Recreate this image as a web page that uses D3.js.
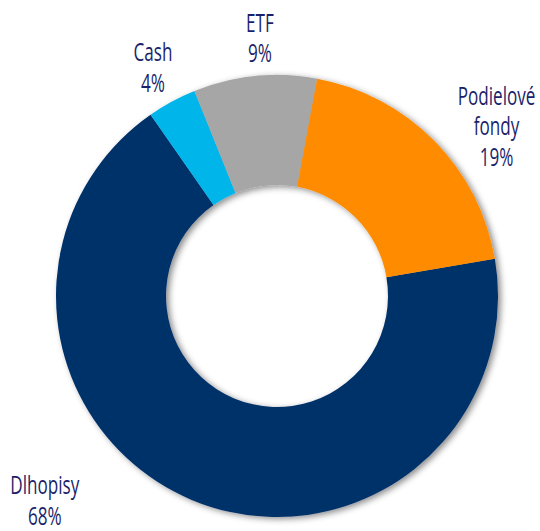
<!DOCTYPE html>
<html>
<head>
<meta charset="utf-8">
<script src="https://cdn.jsdelivr.net/npm/d3@7"></script>
<style>
  html, body { margin: 0; padding: 0; background: #fff; }
  svg { display: block; }
  .lbl { font-family: "Open Sans", "Noto Sans", sans-serif; font-size: 25px; fill: #1b1f6b; }
</style>
</head>
<body>
<svg id="chart" width="540" height="531"></svg>
<script>
const categories = ["Dlhopisy", "Cash", "ETF", "Podielové fondy"];
const values = [68.0, 3.6, 9.0, 19.4];
const colors = ["#00306b", "#00b5ea", "#a6a6a6", "#ff8c00"];

const W = 540, H = 531;
const cx = 277, cy = 296;
const outerR = 221, innerR = 111;
const startDeg = 80.3;

const svg = d3.select("#chart");
const defs = svg.append("defs");
const f = defs.append("filter").attr("id", "sh").attr("x", "-20%").attr("y", "-20%").attr("width", "140%").attr("height", "140%");
f.append("feDropShadow").attr("dx", 3).attr("dy", 2).attr("stdDeviation", 3)
  .attr("flood-color", "#000").attr("flood-opacity", 0.45);

const pie = d3.pie().sort(null).value(d => d)
  .startAngle(startDeg * Math.PI / 180)
  .endAngle(startDeg * Math.PI / 180 + 2 * Math.PI);
const arcs = pie(values);
const arc = d3.arc().innerRadius(innerR).outerRadius(outerR);

const g = svg.append("g").attr("transform", `translate(${cx},${cy})`);
g.append("g").attr("filter", "url(#sh)")
  .selectAll("path").data(arcs).join("path")
  .attr("d", arc)
  .attr("fill", (d, i) => colors[i]);

// condensing factor so "Dlhopisy" is ~69px wide (condensed face look)
const probe = svg.append("text").attr("class", "lbl").text("Dlhopisy");
const sx = 69 / probe.node().getComputedTextLength();
probe.remove();

// label placement: [angle in degrees clockwise from top, radius]
const placement = [[228.6, 309.5], [-28.5, 260], [-3.8, 258.6], [52.3, 277.5]];
const lineH = 30.5;
const labels = g.append("g");
arcs.forEach((d, i) => {
  const [a, r] = placement[i];
  const [x, y] = d3.pointRadial(a * Math.PI / 180, r);
  const lines = categories[i] === "Podielové fondy" ? ["Podielové", "fondy"] : [categories[i]];
  lines.push(Math.round(values[i]) + "%");
  const t = labels.append("text").attr("class", "lbl").attr("text-anchor", "middle")
    .attr("transform", `translate(${x},${y - (lines.length - 1) * lineH / 2 + 9}) scale(${sx},1)`);
  lines.forEach((s, k) => {
    t.append("tspan").attr("x", 0).attr("dy", k === 0 ? 0 : lineH).text(s);
  });
});
</script>
</body>
</html>
